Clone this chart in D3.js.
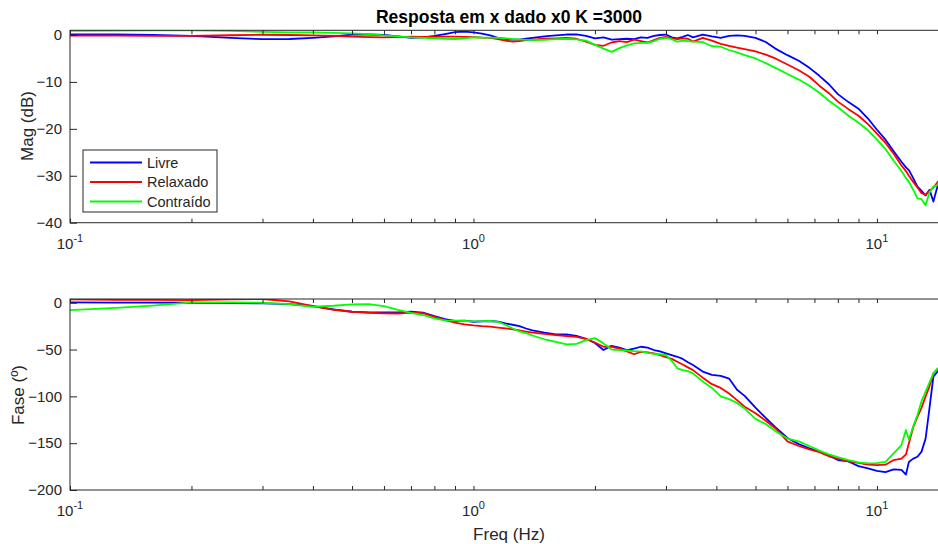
<!DOCTYPE html>
<html>
<head>
<meta charset="utf-8">
<script src="https://cdn.jsdelivr.net/npm/d3@7"></script>
<style>
  body { margin: 0; background: #fff; }
  svg { display: block; font-family: "Liberation Sans", Arial, Helvetica, sans-serif; }
</style>
</head>
<body>
<svg width="938" height="544"></svg>
<script>
// frequency grid (Hz)
const freq = [0.1,0.13,0.16,0.2,0.25,0.3,0.35,0.4,0.45,0.5,0.55,0.6,0.65,0.7,0.75,0.8,0.85,0.9,0.95,1.0,
  1.05,1.1,1.15,1.2,1.25,1.3,1.35,1.4,
  1.5,1.6,1.7,1.8,1.9,2.0,2.1,2.2,2.3,2.4,2.5,2.6,2.7,2.8,2.9,3.0,3.1,3.2,3.3,3.4,3.5,
  3.7,3.9,4.1,4.3,4.5,4.7,5.0,5.3,5.6,6.0,6.4,6.8,7.2,7.6,8.0,
  8.5,9.0,9.5,10,10.5,11,11.5,11.8,12,12.3,12.6,12.9,13.2,13.5,13.8,14.1,14.4,14.7,15];

// magnitude (dB)
const magLivre = [0.15,0.1,0.0,-0.2,-0.6,-0.9,-0.85,-0.6,-0.3,0.1,0.1,0.0,-0.3,-0.6,-0.5,-0.2,0.2,0.6,0.7,0.57,
  0.3,-0.1,-0.6,-0.85,-1.0,-1.0,-0.8,-0.6,
  -0.3,-0.1,0.1,0.15,-0.2,-0.7,-0.5,-1.0,-0.9,-0.8,-0.9,-0.5,-0.6,-0.2,0.0,0.1,-0.5,-0.7,-0.4,0.0,-0.5,
  0.1,-0.3,-0.6,-0.2,-0.1,-0.2,-0.6,-1.5,-2.9,-4.3,-5.5,-7.0,-8.7,-10.5,-12.6,
  -14.3,-15.7,-17.8,-20.2,-22.3,-24.8,-27.0,-28.2,-28.8,-30.5,-32.3,-33.2,-34.2,-33.0,-35.5,-32.5,-30.5,-30.0,-29.8];
const magRelaxado = [-0.15,-0.15,-0.2,-0.2,-0.05,0.05,0.0,-0.1,-0.2,-0.35,-0.45,-0.5,-0.45,-0.35,-0.4,-0.4,-0.35,-0.35,-0.4,-0.45,
  -0.55,-0.6,-0.9,-1.2,-1.4,-1.3,-1.1,-1.0,
  -0.8,-0.7,-0.6,-0.8,-1.4,-2.1,-2.3,-1.6,-1.3,-1.5,-1.0,-1.3,-1.6,-1.1,-0.6,-0.4,-0.7,-0.9,-0.7,-0.8,-1.4,
  -0.6,-1.2,-1.9,-2.3,-2.7,-3.0,-3.5,-4.2,-5.0,-6.3,-7.5,-8.9,-10.8,-12.4,-14.2,
  -15.8,-17.2,-19.0,-21.0,-23.0,-25.3,-27.8,-29.0,-30.0,-31.3,-32.5,-33.7,-34.0,-33.2,-32.5,-31.5,-30.5,-30.0,-29.5];
const magContraido = [0.9,0.95,1.0,1.0,0.9,0.65,0.55,0.55,0.45,0.35,0.2,-0.1,-0.3,-0.5,-0.6,-0.7,-0.8,-0.85,-0.7,-0.5,
  -0.55,-0.57,-0.6,-0.7,-0.85,-0.95,-1.05,-1.07,
  -1.05,-0.9,-0.85,-0.95,-1.2,-2.1,-2.9,-3.6,-2.8,-2.2,-1.8,-1.7,-1.7,-1.3,-0.8,-0.6,-0.9,-1.4,-1.2,-1.3,-1.4,
  -1.5,-2.4,-2.5,-3.2,-3.7,-4.3,-5.0,-6.0,-7.0,-8.3,-9.5,-10.8,-12.3,-14.0,-15.4,
  -17.2,-18.7,-20.3,-22.3,-24.3,-26.8,-29.0,-30.5,-31.3,-33.0,-34.8,-35.0,-36.3,-33.5,-32.3,-32.0,-31.0,-30.5,-30.0];

// phase (degrees)
const faseLivre = [0.4,0.2,0.1,0,-0.4,-0.7,-1.5,-3.5,-7,-9.6,-10.2,-10.3,-10.3,-9.6,-10.5,-14.2,-17.5,-19.5,-19.0,-20.3,
  -19.8,-19.5,-20.2,-22,-23.5,-25,-27.5,-29.5,
  -32,-33.8,-33.8,-35.5,-38.5,-43,-50.5,-46,-48,-50.5,-49,-47,-48,-50.5,-52,-54,-56,-57.7,-60,-63.5,-66.5,
  -73.5,-77,-78,-81,-93,-99.5,-112,-123,-133,-144.5,-151,-155.5,-159,-163,-168,
  -169.5,-174.5,-177,-179.5,-181,-178,-178.5,-183.5,-170,-166.5,-164.5,-159,-145,-112,-79,-74,-72,-70,-68];
const faseRelaxado = [3.6,3.2,3.0,2.9,3.5,4.0,1.5,-3.5,-7.5,-9.6,-10.7,-11.3,-11.5,-10.5,-11,-15,-18.5,-21.2,-23,-24.2,
  -25,-25.5,-26.5,-27.4,-28.3,-29.5,-30.8,-32,
  -33.2,-34.5,-35.5,-36.5,-38.5,-42.5,-47,-47,-49,-52,-55,-52.5,-53,-54,-56,-58,-60,-63,-66,-69,-72,
  -80,-87,-91,-97,-104,-111,-118,-126,-134,-148,-153,-156.5,-159.5,-164,-166.5,
  -169.5,-171,-173,-173.4,-173,-168,-166.5,-162,-150,-133,-122,-112,-100,-89,-75.5,-71.5,-70,-68,-66];
const faseContraido = [-7.8,-5.5,-3,0.4,0.3,0,-1.5,-4.3,-3.2,-1.7,-1.5,-3.5,-7.5,-10.7,-13.1,-16.7,-18.8,-19.2,-19.5,-19.8,
  -19.6,-19.5,-20.5,-23.5,-27.5,-30.5,-32.5,-35,
  -39,-41.7,-44.5,-44,-40,-37.8,-43.4,-50,-50.5,-51,-51.6,-52,-53.5,-54.5,-55,-56,-62,-70,-72,-73,-75.5,
  -84,-91,-100,-103,-107,-113,-124,-129.5,-137,-145,-148,-153,-158,-162,-165,
  -168,-170.5,-171.6,-171.3,-170,-161,-152,-136,-146,-132,-120,-105,-95,-85,-75.5,-70.5,-68,-66,-64];

const seriesNames = ["Livre", "Relaxado", "Contraído"];
const seriesColors = ["#0000ff", "#ff0000", "#00ff00"];
const magTicks = [0, -10, -20, -30, -40];
const faseTicks = [0, -50, -100, -150, -200];
const decadeTicks = [0.1, 1, 10];
const decadeExp = ["-1", "0", "1"];
const minorTicks = [0.2,0.3,0.4,0.5,0.6,0.7,0.8,0.9,2,3,4,5,6,7,8,9];

const svg = d3.select("svg");
const axisColor = "#262626";
const left = 70, right = 948;

let x = d3.scaleLog().domain([0.1, 15]).range([left, right]);

function panel(top, bottom, yDomain, yTicks, series, clipId) {
  let y = d3.scaleLinear().domain(yDomain).range([bottom, top]);

  svg.append("clipPath").attr("id", clipId)
    .append("rect").attr("x", left).attr("y", top)
    .attr("width", right - left).attr("height", bottom - top);

  // lines
  let line = d3.line()
    .x((d, i) => x(freq[i]))
    .y(d => y(d));
  series.forEach((s, k) => {
    svg.append("path")
      .datum(s)
      .attr("clip-path", "url(#" + clipId + ")")
      .attr("fill", "none")
      .attr("stroke", seriesColors[k])
      .attr("stroke-width", 1.8)
      .attr("stroke-linejoin", "round")
      .attr("d", line);
  });

  // box
  svg.append("rect")
    .attr("x", left).attr("y", top)
    .attr("width", right - left).attr("height", bottom - top)
    .attr("fill", "none").attr("stroke", axisColor).attr("stroke-width", 1);

  // y axis
  let gy = svg.append("g")
    .attr("transform", "translate(" + left + ",0)")
    .call(d3.axisLeft(y).tickValues(yTicks).tickSize(-7).tickPadding(8).tickFormat(d3.format("d")));
  gy.select(".domain").remove();
  gy.selectAll("line").attr("stroke", axisColor);
  gy.selectAll("text").attr("fill", axisColor).style("font-size", "15px")
    .style("font-family", "'Liberation Sans', Arial, sans-serif");

  // x axis bottom + top (major and minor)
  [[bottom, d3.axisBottom], [top, d3.axisTop]].forEach(([yy, ax]) => {
    let gMaj = svg.append("g").attr("transform", "translate(0," + yy + ")")
      .call(ax(x).tickValues(decadeTicks).tickSize(-4).tickFormat(""));
    gMaj.select(".domain").remove();
    gMaj.selectAll("line").attr("stroke", axisColor);
    let gMin = svg.append("g").attr("transform", "translate(0," + yy + ")")
      .call(ax(x).tickValues(minorTicks).tickSize(-4).tickFormat(""));
    gMin.select(".domain").remove();
    gMin.selectAll("line").attr("stroke", axisColor);
  });

  // decade labels 10^n
  let lab = svg.append("g").selectAll("text")
    .data(decadeTicks).enter().append("text")
    .attr("x", d => x(d))
    .attr("y", bottom + 26)
    .attr("text-anchor", "middle")
    .attr("fill", axisColor)
    .style("font-size", "15px");
  lab.append("tspan").text("10");
  lab.append("tspan").attr("dy", -7).style("font-size", "11px")
    .text((d, i) => decadeExp[i]);

  return y;
}

panel(30.3, 222.7, [-40, 1], magTicks, [magLivre, magRelaxado, magContraido], "clipMag");
panel(299, 490, [-200, 4], faseTicks, [faseLivre, faseRelaxado, faseContraido], "clipFase");

// title and labels
svg.append("text")
  .attr("x", (left + right) / 2).attr("y", 23)
  .attr("text-anchor", "middle")
  .attr("fill", "#000")
  .style("font-size", "17.5px").style("font-weight", "bold")
  .text("Resposta em x dado x0 K =3000");

svg.append("text")
  .attr("transform", "translate(33,126) rotate(-90)")
  .attr("text-anchor", "middle").attr("fill", axisColor)
  .style("font-size", "17px")
  .text("Mag (dB)");

svg.append("text")
  .attr("transform", "translate(24,395) rotate(-90)")
  .attr("text-anchor", "middle").attr("fill", axisColor)
  .style("font-size", "17px")
  .text("Fase (º)");

svg.append("text")
  .attr("x", (left + right) / 2).attr("y", 540)
  .attr("text-anchor", "middle").attr("fill", axisColor)
  .style("font-size", "17px")
  .text("Freq (Hz)");

// legend
let lg = svg.append("g").attr("transform", "translate(83,150)");
lg.append("rect").attr("width", 134).attr("height", 62)
  .attr("fill", "#fff").attr("stroke", axisColor).attr("stroke-width", 1);
seriesNames.forEach((name, i) => {
  let yy = 12.5 + i * 19.5;
  lg.append("line").attr("x1", 7).attr("x2", 59).attr("y1", yy).attr("y2", yy)
    .attr("stroke", seriesColors[i]).attr("stroke-width", 1.8);
  lg.append("text").attr("x", 64).attr("y", yy + 5)
    .attr("fill", axisColor).style("font-size", "14.5px").text(name);
});
</script>
</body>
</html>
